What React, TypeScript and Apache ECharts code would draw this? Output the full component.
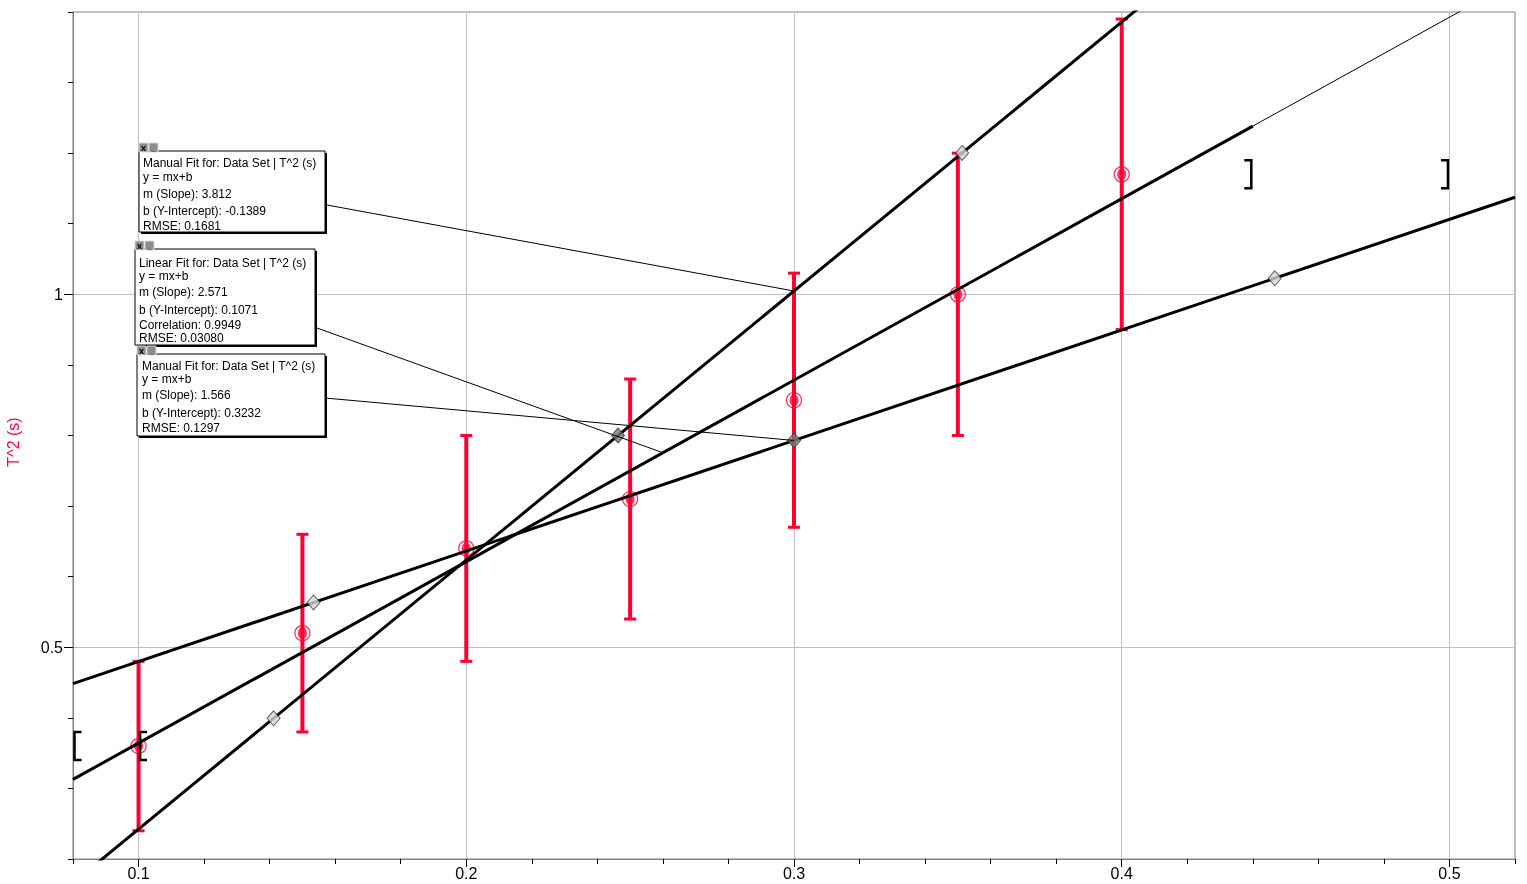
import React, { useEffect, useRef } from 'react';
import * as echarts from 'echarts';

// ---------- data ----------
const xLabelValues = [0.1, 0.2, 0.3, 0.4, 0.5];
const yLabelValues = [0.5, 1];
const lengthValues = [0.1, 0.15, 0.2, 0.25, 0.3, 0.35, 0.4];
const periodSqValues = [0.36, 0.52, 0.64, 0.71, 0.85, 1.0, 1.17];
const errorValues = [0.12, 0.14, 0.16, 0.17, 0.18, 0.2, 0.22];

const steepFit = { m: 3.812, b: -0.1389 };
const linearFit = { m: 2.571, b: 0.1071 };
const shallowFit = { m: 1.566, b: 0.3232 };
const linearFitRange = [0.08, 0.44];
const steepHandleX = [0.1412, 0.2463, 0.3513];
const shallowHandleX = [0.1534, 0.3, 0.4467];
// [x, y, side]  side: -1 = "[" , 1 = "]"
const bracketPts = [[0.08, 0.36, -1], [0.1, 0.36, -1], [0.44, 1.17, 1], [0.5, 1.17, 1]];

const box1Lines = ['Manual Fit for: Data Set | T^2 (s)', 'y = mx+b', 'm (Slope): 3.812', 'b (Y-Intercept): -0.1389', 'RMSE: 0.1681'];
const box2Lines = ['Linear Fit for: Data Set | T^2 (s)', 'y = mx+b', 'm (Slope): 2.571', 'b (Y-Intercept): 0.1071', 'Correlation: 0.9949', 'RMSE: 0.03080'];
const box3Lines = ['Manual Fit for: Data Set | T^2 (s)', 'y = mx+b', 'm (Slope): 1.566', 'b (Y-Intercept): 0.3232', 'RMSE: 0.1297'];

const X_MIN = 0.08, X_MAX = 0.52, Y_MIN = 0.2, Y_MAX = 1.4;
const RED = '#ff0033';
const FONT = 'Arial, "Liberation Sans", sans-serif';

const f = (fit: { m: number; b: number }, x: number) => fit.m * x + fit.b;

function boxGraphic(x: number, y: number, w: number, h: number, textX: number, lineYs: number[], lines: string[]) {
  const children: any[] = [
    { type: 'rect', shape: { x: x + 2, y: y + 2, width: w, height: h }, style: { fill: '#000' } },
    { type: 'rect', shape: { x, y, width: w, height: h }, style: { fill: '#fff', stroke: '#000', lineWidth: 1 } },
    { type: 'rect', shape: { x: x, y: y - 8, width: 9, height: 9 }, style: { fill: '#8c8c8c', stroke: '#d8d8d8', lineWidth: 1 } },
    { type: 'rect', shape: { x: x + 10, y: y - 8, width: 9, height: 9 }, style: { fill: '#8c8c8c', stroke: '#d8d8d8', lineWidth: 1 } },
    { type: 'text', x: x + 4.5, y: y - 3.5, style: { text: 'x', font: 'bold 9px ' + FONT, fill: '#000', align: 'center', verticalAlign: 'middle' } },
    { type: 'text', x: x + 14.5, y: y - 3, style: { text: '_', font: 'bold 9px ' + FONT, fill: '#000', align: 'center', verticalAlign: 'middle' } },
  ];
  lines.forEach((t, i) => {
    children.push({ type: 'text', x: textX, y: lineYs[i], style: { text: t, font: '12px ' + FONT, fill: '#000', verticalAlign: 'middle' } });
  });
  return { type: 'group', z: 100, children };
}

export default function App() {
  const ref = useRef<HTMLDivElement>(null);
  useEffect(() => {
    const chart = echarts.init(ref.current!, undefined, { renderer: 'svg' });

    const points = lengthValues.map((x, i) => [x, periodSqValues[i]]);
    const errData = lengthValues.map((x, i) => [x, periodSqValues[i], errorValues[i]]);
    const lineData = (fit: any, a: number, b: number) => [[a, f(fit, a)], [b, f(fit, b)]];

    const option: any = {
      animation: false,
      textStyle: { fontFamily: FONT },
      grid: { left: 73, right: 12, top: 12, bottom: 25, show: true, borderColor: '#808080', borderWidth: 1, backgroundColor: '#fff' },
      xAxis: [
        {
          type: 'value', min: X_MIN, max: X_MAX, interval: 0.02, position: 'bottom',
          axisLine: { show: true, lineStyle: { color: '#808080' } },
          axisTick: { show: true, length: 5, lineStyle: { color: '#000' } },
          axisLabel: {
            fontSize: 16, color: '#000', margin: 6,
            formatter: (v: number) => (xLabelValues.some((l) => Math.abs(l - v) < 1e-9) ? String(Math.round(v * 10) / 10) : ''),
          },
          splitLine: { show: false },
        },
        {
          type: 'value', min: X_MIN, max: X_MAX, position: 'bottom', offset: 0,
          axisLine: { show: false },
          axisTick: { show: true, length: 8, customValues: xLabelValues, lineStyle: { color: '#000' } },
          axisLabel: { show: false },
          splitLine: { show: false },
        },
      ],
      yAxis: [
        {
          type: 'value', min: Y_MIN, max: Y_MAX, interval: 0.1, position: 'left',
          axisLine: { show: true, lineStyle: { color: '#808080' } },
          axisTick: { show: true, length: 5, lineStyle: { color: '#000' } },
          axisLabel: {
            fontSize: 16, color: '#000', margin: 10,
            formatter: (v: number) => (yLabelValues.some((l) => Math.abs(l - v) < 1e-9) ? String(Math.round(v * 10) / 10) : ''),
          },
          splitLine: { show: false },
        },
        {
          type: 'value', min: Y_MIN, max: Y_MAX, position: 'left', offset: 0,
          axisLine: { show: false },
          axisTick: { show: true, length: 9, customValues: yLabelValues, lineStyle: { color: '#000' } },
          axisLabel: { show: false },
          splitLine: { show: false },
        },
      ],
      series: [
        {
          type: 'line', name: 'grid', z: 0, data: [[X_MIN, Y_MIN]], symbol: 'none', silent: true,
          lineStyle: { opacity: 0 },
          markLine: {
            z: 0, silent: true, symbol: 'none', animation: false, label: { show: false },
            lineStyle: { color: '#c0c0c0', width: 1, type: 'solid' },
            data: [...xLabelValues.map((v) => ({ xAxis: v })), ...yLabelValues.map((v) => ({ yAxis: v }))],
          },
        },
        {
          type: 'custom', name: 'errors', z: 3, clip: true, data: errData,
          encode: { x: 0, y: 1 },
          renderItem: (params: any, api: any) => {
            const x = api.value(0), y = api.value(1), e = api.value(2);
            const t = api.coord([x, y + e]);
            const b = api.coord([x, y - e]);
            const hw = 6;
            const st = { stroke: RED, lineWidth: 4 };
            const st2 = { stroke: RED, lineWidth: 3 };
            return {
              type: 'group',
              children: [
                { type: 'line', shape: { x1: t[0], y1: t[1], x2: b[0], y2: b[1] }, style: st },
                { type: 'line', shape: { x1: t[0] - hw, y1: t[1], x2: t[0] + hw, y2: t[1] }, style: st2 },
                { type: 'line', shape: { x1: b[0] - hw, y1: b[1], x2: b[0] + hw, y2: b[1] }, style: st2 },
              ],
            };
          },
        },
        {
          type: 'scatter', name: 'points', z: 4, data: points, symbol: 'circle', symbolSize: 15,
          itemStyle: { color: 'rgba(255,255,255,0)', borderColor: RED, borderWidth: 1.3 },
        },
        {
          type: 'scatter', name: 'pointsInner', z: 4, data: points, symbol: 'circle', symbolSize: [9, 12],
          itemStyle: { color: RED },
        },
        {
          type: 'line', name: 'steep', z: 5, data: lineData(steepFit, X_MIN, X_MAX), symbol: 'none',
          lineStyle: { color: '#000', width: 3 },
        },
        {
          type: 'line', name: 'linear', z: 5, data: lineData(linearFit, linearFitRange[0], linearFitRange[1]), symbol: 'none',
          lineStyle: { color: '#000', width: 3 },
        },
        {
          type: 'line', name: 'linearExt', z: 5, data: lineData(linearFit, linearFitRange[1], X_MAX), symbol: 'none',
          lineStyle: { color: '#000', width: 1 },
        },
        {
          type: 'line', name: 'shallow', z: 5, data: lineData(shallowFit, X_MIN, X_MAX), symbol: 'none',
          lineStyle: { color: '#000', width: 3 },
        },
        {
          type: 'scatter', name: 'handles', z: 6, symbol: 'diamond', symbolSize: [13, 15],
          data: [
            ...steepHandleX.map((x, i) => ({ value: [x, f(steepFit, x)], itemStyle: { color: i === 1 ? '#7a7a7a' : '#d6d6d6' } })),
            ...shallowHandleX.map((x, i) => ({ value: [x, f(shallowFit, x)], itemStyle: { color: i === 1 ? '#7a7a7a' : '#d6d6d6' } })),
          ],
          itemStyle: { borderColor: '#3a3a3a', borderWidth: 1 },
        },
        {
          type: 'custom', name: 'brackets', z: 6, clip: false, data: bracketPts,
          encode: { x: 0, y: 1 },
          renderItem: (params: any, api: any) => {
            const p = api.coord([api.value(0), api.value(1)]);
            const side = api.value(2);
            const vx = p[0] + (side < 0 ? 1.5 : -1.5);
            const arm = side < 0 ? 7 : -7;
            const h = 14;
            return {
              type: 'polyline',
              shape: { points: [[vx + arm, p[1] - h], [vx, p[1] - h], [vx, p[1] + h], [vx + arm, p[1] + h]] },
              style: { stroke: '#000', lineWidth: 2.5, fill: 'none' },
            };
          },
        },
      ],
    };
    chart.setOption(option);

    const p1 = chart.convertToPixel({ gridIndex: 0 }, [0.3, f(steepFit, 0.3)]) as number[];
    const p2 = chart.convertToPixel({ gridIndex: 0 }, [0.26, f(linearFit, 0.26)]) as number[];
    const p3 = chart.convertToPixel({ gridIndex: 0 }, [0.3, f(shallowFit, 0.3)]) as number[];

    chart.setOption({
      graphic: [
        { type: 'line', z: 50, shape: { x1: 327, y1: 205, x2: p1[0], y2: p1[1] }, style: { stroke: '#000', lineWidth: 1 } },
        { type: 'line', z: 50, shape: { x1: 317, y1: 328, x2: p2[0], y2: p2[1] }, style: { stroke: '#000', lineWidth: 1 } },
        { type: 'line', z: 50, shape: { x1: 325, y1: 398, x2: p3[0], y2: p3[1] }, style: { stroke: '#000', lineWidth: 1 } },
        boxGraphic(139, 151, 186, 81, 143, [163, 177, 194, 211, 226], box1Lines),
        boxGraphic(135, 249, 180, 96, 139, [263, 276, 292, 310, 325, 338], box2Lines),
        boxGraphic(137, 354, 188, 82, 142, [366, 379, 395, 413, 428], box3Lines),
        { type: 'text', x: 13, y: 442, rotation: Math.PI / 2, style: { text: 'T^2 (s)', font: '16px ' + FONT, fill: RED, align: 'center', verticalAlign: 'middle' } },
      ],
    });

    return () => chart.dispose();
  }, []);
  return <div ref={ref} style={{ position: 'fixed', left: 0, top: 0, width: 1527, height: 884 }} />;
}
